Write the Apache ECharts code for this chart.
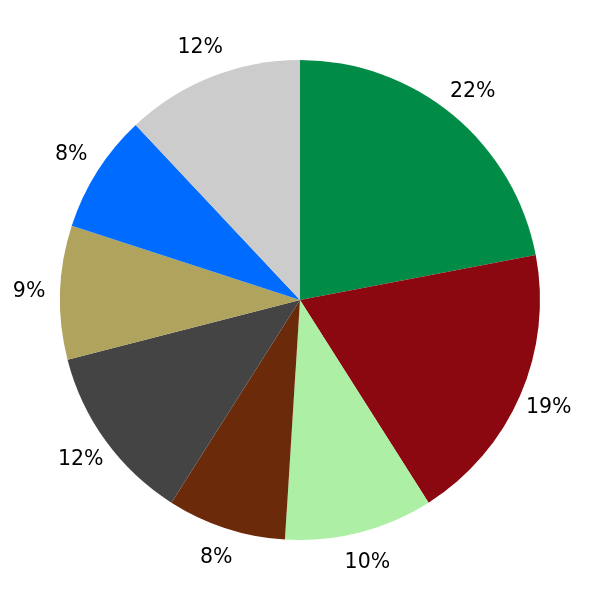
<!DOCTYPE html>
<html>
<head>
<meta charset="utf-8">
<script src="https://cdn.jsdelivr.net/npm/echarts@6/dist/echarts.min.js"></script>
<style>html,body{margin:0;padding:0;background:#fff;}#c{width:600px;height:600px;}</style>
</head>
<body>
<div id="c"></div>
<script>
const values = [22, 19, 10, 8, 12, 9, 8, 12];
const labels = ['22%', '19%', '10%', '8%', '12%', '9%', '8%', '12%'];
const colors = ['#008C46', '#8B0810', '#ADEFA5', '#6B2B0B', '#444444', '#AFA35E', '#006CFF', '#CCCCCC'];

const chart = echarts.init(document.getElementById('c'), null, {renderer: 'canvas'});
const sliceData = values.map((v, i) => ({value: v, name: labels[i], itemStyle: {color: colors[i]}}));
const labelData = values.map((v, i) => ({value: v, name: labels[i]}));
chart.setOption({
  backgroundColor: '#ffffff',
  animation: false,
  series: [
    {
      type: 'pie',
      center: ['50%', '50%'],
      radius: [0, 240],
      startAngle: 90,
      clockwise: true,
      silent: true,
      label: {show: false},
      labelLine: {show: false},
      itemStyle: {borderWidth: 0},
      data: sliceData
    },
    {
      type: 'pie',
      center: ['50%', '50%'],
      radius: [250, 286],
      startAngle: 90,
      clockwise: true,
      silent: true,
      itemStyle: {color: 'rgba(0,0,0,0)', borderWidth: 0},
      label: {
        show: true,
        position: 'inside',
        formatter: '{b}',
        color: '#000',
        fontFamily: 'DejaVu Sans',
        fontSize: 20.5,
        rotate: 0
      },
      labelLine: {show: false},
      data: labelData
    }
  ]
});
</script>
</body>
</html>
